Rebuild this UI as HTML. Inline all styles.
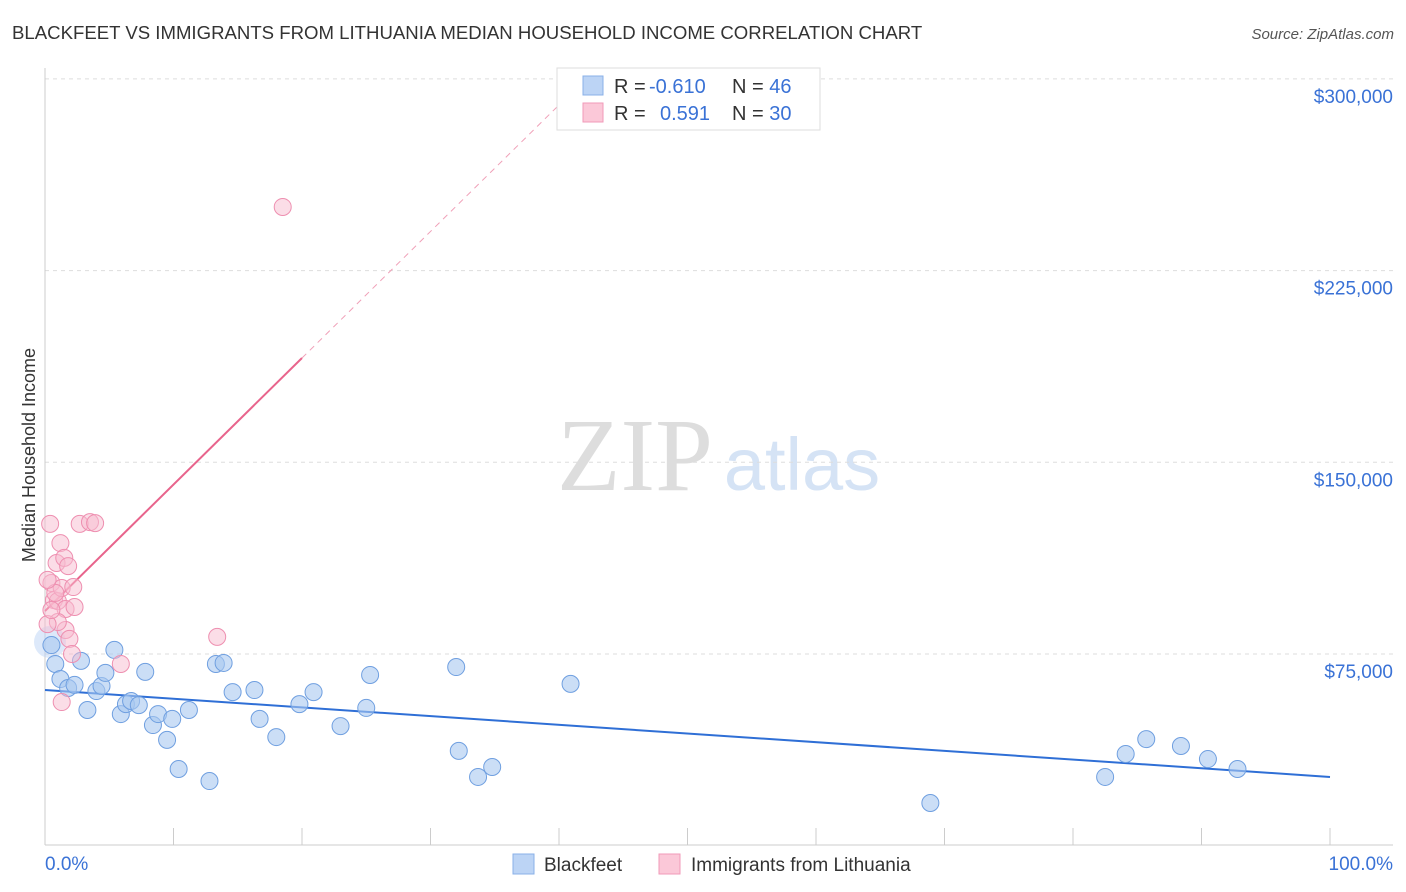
<!DOCTYPE html>
<html><head><meta charset="utf-8"><style>
body{margin:0;background:#fff;font-family:"Liberation Sans",sans-serif;}
svg{display:block}
</style></head><body>
<svg id="chart" width="1406" height="892">
<text x="12" y="39" font-size="18.6" fill="#333">BLACKFEET VS IMMIGRANTS FROM LITHUANIA MEDIAN HOUSEHOLD INCOME CORRELATION CHART</text>
<text x="1394" y="39" font-size="15" fill="#555" font-style="italic" text-anchor="end">Source: ZipAtlas.com</text>
<text x="35" y="455" font-size="18" fill="#333" text-anchor="middle" transform="rotate(-90 35 455)">Median Household Income</text>
<g><text x="635" y="490" font-size="104" fill="#ddd" font-family="Liberation Serif,serif" text-anchor="middle">ZIP</text><text x="802" y="490" font-size="74" fill="#d5e3f5" text-anchor="middle">atlas</text></g>
<g id="grid"></g><g id="axes"></g><g id="lines"></g><g id="pts"></g>
<g>
<rect x="557" y="68" width="263" height="62" fill="#fff" stroke="#ddd"/>
<rect x="583" y="76" width="20" height="19" fill="#bcd4f5" stroke="#8ab0e8"/>
<rect x="583" y="103" width="20" height="19" fill="#fbc8d8" stroke="#f09ab8"/>
<text x="614" y="93" font-size="20" fill="#333">R = <tspan fill="#3a72d6" x="649">-0.610</tspan><tspan x="732">N = </tspan><tspan fill="#3a72d6">46</tspan></text>
<text x="614" y="120" font-size="20" fill="#333">R = <tspan fill="#3a72d6" x="660">0.591</tspan><tspan x="732">N = </tspan><tspan fill="#3a72d6">30</tspan></text>
</g>
<g>
<rect x="513" y="854" width="21" height="20" fill="#bcd4f5" stroke="#8ab0e8"/>
<text x="544" y="871" font-size="19" fill="#333">Blackfeet</text>
<rect x="659" y="854" width="21" height="20" fill="#fbc8d8" stroke="#f09ab8"/>
<text x="691" y="871" font-size="19" fill="#333">Immigrants from Lithuania</text>
</g>
</svg>
<script>
const blueX=[0.5,0.8,1.2,1.8,2.3,2.8,3.3,4.0,4.4,4.7,5.4,5.9,6.3,6.7,7.3,7.8,8.4,8.8,9.5,9.9,10.4,11.2,12.8,13.3,13.9,14.6,16.3,16.7,18.0,19.8,20.9,23.0,25.0,25.3,32.0,32.2,33.7,34.8,40.9,68.9,82.5,84.1,85.7,88.4,90.5,92.8];
const blueY=[78500,71100,65200,61700,62900,72300,53100,60500,62500,67600,76600,51500,55400,56600,55000,68000,47200,51500,41400,49600,30000,53100,25300,71100,71500,60100,60900,49600,42500,55400,60100,46800,53900,66800,69900,37100,26900,30800,63300,16700,26900,35900,41700,39000,33900,30000];
const pinkX=[0.4,0.5,0.7,0.9,1.0,1.2,1.3,1.5,1.6,1.6,1.8,1.9,2.1,2.2,2.3,2.7,3.5,3.9,5.9,13.4,18.5,1.3,1.0,0.2,0.8,0.2,0.5];
const pinkY=[125900,102800,96100,110600,95700,118400,100800,112600,84400,92600,109400,80900,75000,101200,93400,125900,126600,126200,71100,81700,249900,56200,87500,86700,98900,104000,92200];
const yTicks=[75000,150000,225000,300000];
const yTickLabels=["$75,000","$150,000","$225,000","$300,000"];
const blueTrend=[60900,26900];
const pinkTrend=[91800,190800];
const NS="http://www.w3.org/2000/svg";
const sx=p=>45+p*12.85;
const sy=v=>654-(v-75000)*191.7/75000;
function mk(tag,attrs,parent){const e=document.createElementNS(NS,tag);for(const k in attrs)e.setAttribute(k,attrs[k]);document.getElementById(parent).appendChild(e);return e;}
yTicks.forEach((t,i)=>{
 const l=mk('line',{x1:45,x2:1393,y1:sy(t),y2:sy(t),stroke:'#ddd','stroke-dasharray':'4,4'},'grid');
 
 
 const tx=mk('text',{x:1393,y:sy(t)+24,'font-size':19,fill:'#3a72d6','text-anchor':'end'},'axes');
 tx.textContent=yTickLabels[i];
 
 
});
mk('line',{x1:45,x2:45,y1:68,y2:845,stroke:'#ccc'},'axes');
mk('line',{x1:45,x2:1393,y1:845,y2:845,stroke:'#ccc'},'axes');
for(let i=0;i<=10;i++){const t=mk('line',{x1:sx(i*10),x2:sx(i*10),y1:828,y2:845,stroke:'#ccc'},'axes');
 
 }
const xl=mk('text',{x:45,y:870,'font-size':19,fill:'#3a72d6'},'axes');xl.textContent='0.0%';


const xr=mk('text',{x:1393,y:870,'font-size':19,fill:'#3a72d6','text-anchor':'end'},'axes');xr.textContent='100.0%';


const bl=mk('line',{x1:sx(0),y1:sy(blueTrend[0]),x2:sx(100),y2:sy(blueTrend[1]),stroke:'#2f6fd6','stroke-width':2},'lines');


const slope=(pinkTrend[1]-pinkTrend[0])/20;
const pl=mk('line',{x1:sx(0),y1:sy(pinkTrend[0]),x2:sx(20),y2:sy(pinkTrend[1]),stroke:'#e8648c','stroke-width':2},'lines');


const xe=(300500-pinkTrend[0])/slope;
const pd=mk('line',{x1:sx(20),y1:sy(pinkTrend[1]),x2:sx(xe),y2:sy(300500),stroke:'#f0a0b8','stroke-width':1,'stroke-dasharray':'6,5'},'lines');


mk('circle',{cx:50,cy:642,r:16,fill:'#bcd4f5','fill-opacity':0.5},'pts');
blueX.forEach((x,i)=>{const c=mk('circle',{cx:sx(x),cy:sy(blueY[i]),r:8.5,fill:'#a9c8f0','fill-opacity':0.6,stroke:'#6f9fe0','stroke-width':1},'pts');
 
 });
pinkX.forEach((x,i)=>{const c=mk('circle',{cx:sx(x),cy:sy(pinkY[i]),r:8.5,fill:'#f8bcd0','fill-opacity':0.5,stroke:'#ee8fb0','stroke-width':1},'pts');
 
 });
</script>
</body></html>
